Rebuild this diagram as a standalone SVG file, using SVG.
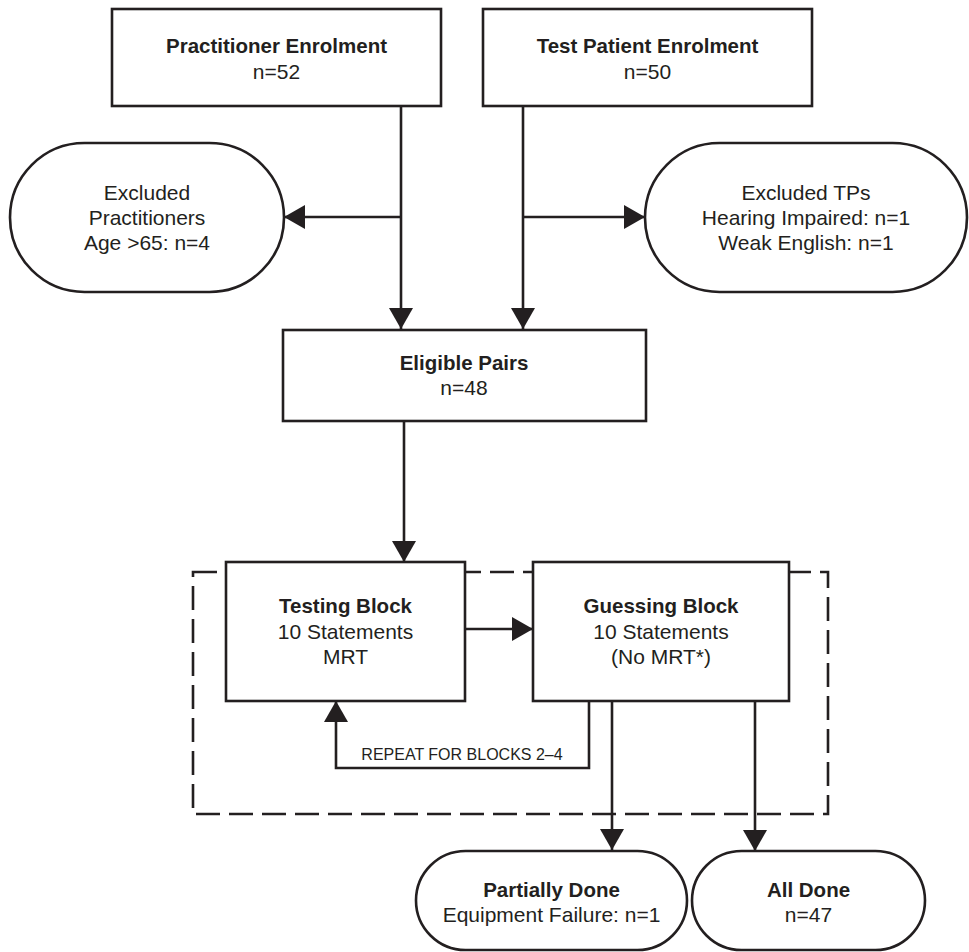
<svg xmlns="http://www.w3.org/2000/svg" width="969" height="952" viewBox="0 0 969 952">
<style>
.box{fill:#fff;stroke:#231f20;stroke-width:2.6}
.ln{fill:none;stroke:#231f20;stroke-width:2.6}
.dash{fill:none;stroke:#231f20;stroke-width:2.6;stroke-dasharray:24 9}
text{font-family:"Liberation Sans",Arial,sans-serif;fill:#231f20;text-anchor:middle}
.b{font-weight:bold;font-size:20.5px}
.r{font-size:21px}
.s{font-size:16px}
</style>
<defs>
<marker id="ah" viewBox="0 0 21 24" markerWidth="21" markerHeight="24" refX="21" refY="12" orient="auto" markerUnits="userSpaceOnUse">
<path d="M0,0 L21,12 L0,24 Z" fill="#231f20"/>
</marker>
</defs>
<rect width="969" height="952" fill="#fff"/>
<g id="group-box">
<rect class="dash" x="193" y="572" width="635" height="242"/>
</g>
<g id="connectors">
<path class="ln" d="M401,106 V329" marker-end="url(#ah)"/>
<path class="ln" d="M401,217 H284" marker-end="url(#ah)"/>
<path class="ln" d="M523,106 V329" marker-end="url(#ah)"/>
<path class="ln" d="M523,217 H645" marker-end="url(#ah)"/>
<path class="ln" d="M404,421 V562" marker-end="url(#ah)"/>
<path class="ln" d="M465,629 H533" marker-end="url(#ah)"/>
<path class="ln" d="M589,701 V768 H336 V701" marker-end="url(#ah)"/>
<path class="ln" d="M612,701 V850" marker-end="url(#ah)"/>
<path class="ln" d="M755,701 V851" marker-end="url(#ah)"/>
<text class="s" x="462" y="760">REPEAT FOR BLOCKS 2–4</text>
</g>
<g id="practitioner-enrolment">
<rect class="box" x="112" y="9" width="329" height="97"/>
<text class="b" x="276.5" y="53">Practitioner Enrolment</text>
<text class="r" x="276.5" y="79">n=52</text>
</g>
<g id="test-patient-enrolment">
<rect class="box" x="483" y="9" width="329" height="97"/>
<text class="b" x="647.5" y="53">Test Patient Enrolment</text>
<text class="r" x="647.5" y="79">n=50</text>
</g>
<g id="excluded-practitioners">
<rect class="box" x="10" y="143" width="274" height="149" rx="74.5" ry="74.5"/>
<text class="r" x="147" y="200">Excluded</text>
<text class="r" x="147" y="225">Practitioners</text>
<text class="r" x="147" y="250">Age &gt;65: n=4</text>
</g>
<g id="excluded-tps">
<rect class="box" x="645" y="143" width="322" height="149" rx="74.5" ry="74.5"/>
<text class="r" x="806" y="200">Excluded TPs</text>
<text class="r" x="806" y="225">Hearing Impaired: n=1</text>
<text class="r" x="806" y="250">Weak English: n=1</text>
</g>
<g id="eligible-pairs">
<rect class="box" x="283" y="330" width="363" height="91"/>
<text class="b" x="464" y="370">Eligible Pairs</text>
<text class="r" x="464" y="395">n=48</text>
</g>
<g id="testing-block">
<rect class="box" x="226" y="562" width="239" height="139"/>
<text class="b" x="345.5" y="613">Testing Block</text>
<text class="r" x="345.5" y="639">10 Statements</text>
<text class="r" x="345.5" y="664">MRT</text>
</g>
<g id="guessing-block">
<rect class="box" x="533" y="562" width="256" height="139"/>
<text class="b" x="661" y="613">Guessing Block</text>
<text class="r" x="661" y="639">10 Statements</text>
<text class="r" x="661" y="664">(No MRT*)</text>
</g>
<g id="partially-done">
<rect class="box" x="416" y="851" width="271" height="99" rx="49.5" ry="49.5"/>
<text class="b" x="551.5" y="897">Partially Done</text>
<text class="r" x="551.5" y="922">Equipment Failure: n=1</text>
</g>
<g id="all-done">
<rect class="box" x="692" y="851" width="233" height="99" rx="49.5" ry="49.5"/>
<text class="b" x="808.5" y="897">All Done</text>
<text class="r" x="808.5" y="922">n=47</text>
</g>
</svg>
